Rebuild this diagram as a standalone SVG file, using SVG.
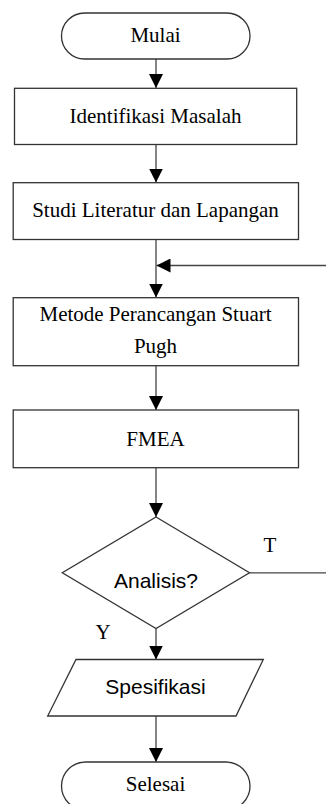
<svg xmlns="http://www.w3.org/2000/svg" width="326" height="804" viewBox="0 0 326 804">
<style>
.s{fill:#fff;stroke:#333;stroke-width:1.3}
.c{fill:none;stroke:#444;stroke-width:1.3}
.tr{font-family:"Liberation Serif","Times New Roman",serif;font-size:21px;fill:#000;text-anchor:middle}
.ts{font-family:"Liberation Sans",Arial,sans-serif;font-size:21px;fill:#000;text-anchor:middle}
</style>
<defs>
<marker id="ah" markerWidth="14" markerHeight="14" viewBox="0 0 14 14" refX="14" refY="7" orient="auto" markerUnits="userSpaceOnUse">
<path d="M0,0 L14,7 L0,14 Z" fill="#000"/>
</marker>
</defs>
<rect width="326" height="804" fill="#fff"/>
<g id="connectors">
<line class="c" x1="156" y1="59" x2="156" y2="88" marker-end="url(#ah)"/>
<line class="c" x1="156" y1="144.5" x2="156" y2="182.5" marker-end="url(#ah)"/>
<line class="c" x1="156" y1="239.5" x2="156" y2="297.5" marker-end="url(#ah)"/>
<line class="c" x1="326" y1="265.5" x2="156.5" y2="265.5" marker-end="url(#ah)"/>
<line class="c" x1="156" y1="366" x2="156" y2="410" marker-end="url(#ah)"/>
<line class="c" x1="156" y1="467.5" x2="156" y2="517" marker-end="url(#ah)"/>
<line class="c" x1="249.5" y1="572.8" x2="326" y2="572.8"/>
<line class="c" x1="156" y1="628.5" x2="156" y2="659.5" marker-end="url(#ah)"/>
<line class="c" x1="156" y1="716" x2="156" y2="762" marker-end="url(#ah)"/>
</g>
<g id="mulai">
<rect class="s" x="61.5" y="13" width="188.5" height="46" rx="23"/>
<text class="tr" x="155.5" y="41.5">Mulai</text>
</g>
<g id="identifikasi">
<rect class="s" x="14.5" y="88.3" width="282.2" height="56.2"/>
<text class="tr" x="155.5" y="123">Identifikasi Masalah</text>
</g>
<g id="studi">
<rect class="s" x="13.2" y="182.7" width="285.3" height="56.8"/>
<text class="tr" x="155.5" y="217">Studi Literatur dan Lapangan</text>
</g>
<g id="metode">
<rect class="s" x="13.2" y="297.7" width="285.3" height="68"/>
<text class="tr" x="155.5" y="320.7">Metode Perancangan Stuart</text>
<text class="tr" x="155.5" y="352.7">Pugh</text>
</g>
<g id="fmea">
<rect class="s" x="13.2" y="410" width="285.3" height="57.7"/>
<text class="tr" x="155.5" y="446">FMEA</text>
</g>
<g id="analisis">
<polygon class="s" points="156,517 249.5,572.8 156,628.5 62.3,572.8"/>
<text class="ts" x="156" y="588">Analisis?</text>
<text class="tr" x="270" y="552">T</text>
<text class="tr" x="103" y="639">Y</text>
</g>
<g id="spesifikasi">
<polygon class="s" points="76,659.5 263.3,659.5 236,716 47.7,716"/>
<text class="ts" x="155.5" y="694.3">Spesifikasi</text>
</g>
<g id="selesai">
<rect class="s" x="61.5" y="762" width="188.5" height="48" rx="24"/>
<text class="tr" x="155.5" y="790.7">Selesai</text>
</g>
</svg>
